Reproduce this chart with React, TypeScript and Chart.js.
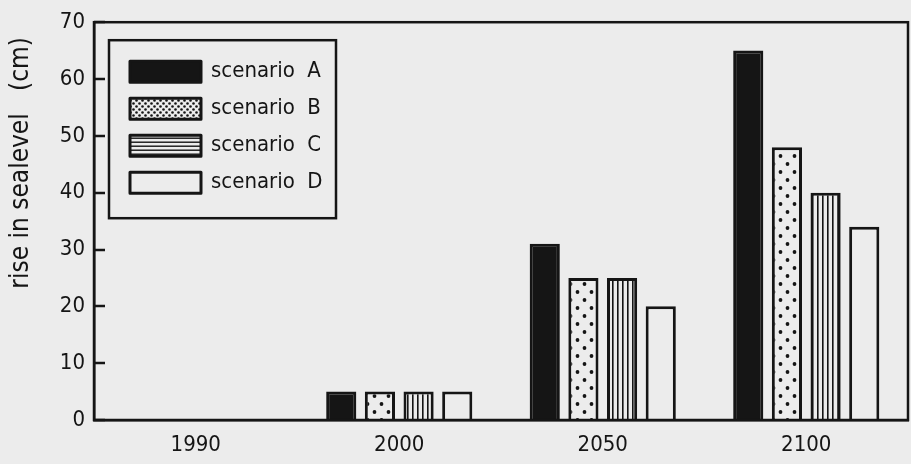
import React, { useEffect, useRef } from "react";
import { Chart, registerables } from "chart.js";

Chart.register(...registerables);

const years = ["1990", "2000", "2050", "2100"];
const seriesNames = ["scenario  A", "scenario  B", "scenario  C", "scenario  D"];
const scenarioA = [null, 5, 31, 65];
const scenarioB = [null, 5, 25, 48];
const scenarioC = [null, 5, 25, 40];
const scenarioD = [null, 5, 20, 34];
const yAxisTitle = "rise in sealevel   (cm)  ";
const yMin = 0;
const yMax = 70;
const yStep = 10;

const INK = "#151515";
const PAPER = "#ececec";
const FONT = "'DejaVu Sans Condensed', 'DejaVu Sans', sans-serif";

type Kind = "solid" | "dots" | "fineDots" | "vlines" | "hlines" | "empty";

function makeFill(target: CanvasRenderingContext2D, kind: Kind): string | CanvasPattern {
  if (kind === "solid") return INK;
  if (kind === "empty") return PAPER;
  const c = document.createElement("canvas");
  const ctx = c.getContext("2d")!;
  if (kind === "dots") {
    c.width = 14;
    c.height = 16;
    ctx.fillStyle = PAPER;
    ctx.fillRect(0, 0, 14, 16);
    ctx.fillStyle = INK;
    for (const [x, y] of [[3.5, 4], [10.5, 12]]) {
      ctx.beginPath();
      ctx.arc(x, y, 1.9, 0, Math.PI * 2);
      ctx.fill();
    }
  } else if (kind === "fineDots") {
    c.width = 6;
    c.height = 6;
    ctx.fillStyle = PAPER;
    ctx.fillRect(0, 0, 6, 6);
    ctx.fillStyle = INK;
    for (const [x, y] of [[1.5, 1.5], [4.5, 4.5]]) {
      ctx.beginPath();
      ctx.arc(x, y, 1.3, 0, Math.PI * 2);
      ctx.fill();
    }
  } else if (kind === "vlines") {
    c.width = 5;
    c.height = 4;
    ctx.fillStyle = PAPER;
    ctx.fillRect(0, 0, 5, 4);
    ctx.fillStyle = INK;
    ctx.fillRect(2, 0, 1.6, 4);
  } else {
    c.width = 4;
    c.height = 4;
    ctx.fillStyle = PAPER;
    ctx.fillRect(0, 0, 4, 4);
    ctx.fillStyle = INK;
    ctx.fillRect(0, 1.5, 4, 1.4);
  }
  return target.createPattern(c, "repeat")!;
}

const paperPlugin = {
  id: "paper",
  beforeDraw(chart: any) {
    const ctx = chart.ctx;
    ctx.save();
    ctx.fillStyle = PAPER;
    ctx.fillRect(0, 0, chart.width, chart.height);
    ctx.restore();
  },
};

const framePlugin = {
  id: "frame",
  afterDatasetsDraw(chart: any) {
    const { left, top, right, bottom } = chart.chartArea;
    const ctx = chart.ctx;
    ctx.save();
    ctx.strokeStyle = INK;
    ctx.lineWidth = 2.5;
    ctx.strokeRect(left, top, right - left, bottom - top);
    // inward tick marks on the value axis
    const yScale = chart.scales.y;
    ctx.lineWidth = 2.5;
    ctx.beginPath();
    yScale.ticks.forEach((t: any) => {
      const py = Math.round(yScale.getPixelForValue(t.value));
      ctx.moveTo(left, py);
      ctx.lineTo(left + 11, py);
    });
    ctx.stroke();
    ctx.restore();
  },
};

const boxLegendPlugin = {
  id: "boxLegend",
  afterDraw(chart: any, _args: any, opts: any) {
    const ctx = chart.ctx;
    const { left, top } = chart.chartArea;
    const bx = left + 15;
    const by = top + 18;
    const bw = 227;
    const bh = 178;
    ctx.save();
    ctx.fillStyle = PAPER;
    ctx.fillRect(bx, by, bw, bh);
    ctx.strokeStyle = INK;
    ctx.lineWidth = 2.5;
    ctx.strokeRect(bx, by, bw, bh);
    const fills = opts.fills || [];
    chart.data.datasets.forEach((ds: any, i: number) => {
      const sx = bx + 21;
      const sy = by + 21 + i * 37;
      ctx.fillStyle = fills[i] ?? ds.backgroundColor;
      ctx.fillRect(sx, sy, 71, 21);
      ctx.lineJoin = "round";
      ctx.lineWidth = 3;
      ctx.strokeStyle = INK;
      ctx.strokeRect(sx, sy, 71, 21);
      ctx.fillStyle = INK;
      ctx.font = `22px ${FONT}`;
      ctx.textBaseline = "middle";
      ctx.textAlign = "left";
      ctx.fillText(ds.label, sx + 81, sy + 10);
    });
    ctx.restore();
  },
};

export default function App() {
  const canvasRef = useRef<HTMLCanvasElement | null>(null);

  useEffect(() => {
    const canvas = canvasRef.current;
    if (!canvas) return;
    const ctx2d = canvas.getContext("2d")!;
    const barKinds: Kind[] = ["solid", "dots", "vlines", "empty"];
    const legendKinds: Kind[] = ["solid", "fineDots", "hlines", "empty"];
    const barFills = barKinds.map((k) => makeFill(ctx2d, k));
    const legendFills = legendKinds.map((k) => makeFill(ctx2d, k));
    const series = [scenarioA, scenarioB, scenarioC, scenarioD];

    const chart = new Chart(canvas, {
      type: "bar",
      data: {
        labels: years,
        datasets: series.map((data, i) => ({
          label: seriesNames[i],
          data: data as any,
          backgroundColor: barFills[i] as any,
          borderColor: INK,
          borderWidth: 3,
          categoryPercentage: 0.76,
          barPercentage: 0.78,
        })),
      },
      options: {
        animation: false,
        responsive: true,
        maintainAspectRatio: false,
        layout: { padding: { left: 0, top: 21, right: 3, bottom: 0 } },
        plugins: {
          legend: { display: false },
          tooltip: { enabled: false },
          boxLegend: { fills: legendFills },
        } as any,
        scales: {
          x: {
            afterFit(scale: any) {
              scale.height = 44;
            },
            grid: { display: true, drawOnChartArea: false, drawTicks: false, color: INK },
            border: { display: true, color: INK, width: 2.5 },
            ticks: { color: INK, font: { family: FONT, size: 22 }, padding: 12 },
          },
          y: {
            min: yMin,
            max: yMax,
            afterFit(scale: any) {
              scale.width = 94;
            },
            grid: { display: true, drawOnChartArea: false, drawTicks: false, color: INK },
            border: { display: true, color: INK, width: 2.5 },
            ticks: { stepSize: yStep, color: INK, font: { family: FONT, size: 22 }, padding: 9 },
            title: {
              display: true,
              text: yAxisTitle,
              align: "end",
              color: INK,
              font: { family: FONT, size: 26 },
              padding: { top: 6, bottom: 0 },
            },
          },
        },
      },
      plugins: [paperPlugin, framePlugin, boxLegendPlugin],
    });
    return () => chart.destroy();
  }, []);

  return (
    <div style={{ position: "absolute", left: 0, top: 0, width: 911, height: 464, background: PAPER }}>
      <canvas ref={canvasRef} />
    </div>
  );
}
